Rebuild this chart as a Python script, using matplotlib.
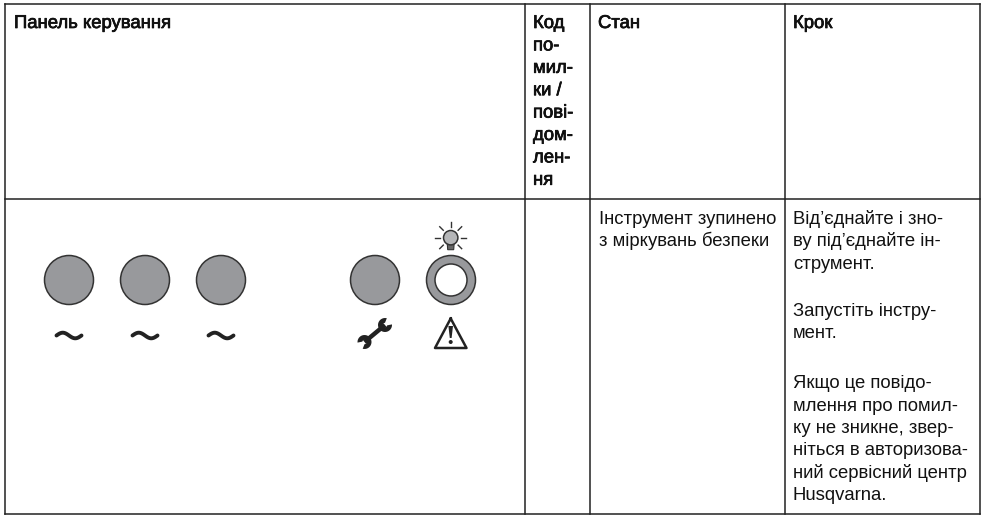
import matplotlib
matplotlib.use("Agg")
import numpy as np
import matplotlib.pyplot as plt
import matplotlib.patheffects as pe
from matplotlib.patches import Circle, Polygon

plt.rcParams['font.family'] = ['Liberation Sans', 'DejaVu Sans']

col_edges = [4.5, 524.5, 589.5, 784.5, 980]
row_edges = [3.5, 198.5, 513.5]
headers = ["Панель керування", "Код", "Стан", "Крок"]
code_lines = ["по-", "мил-", "ки /", "пові-", "дом-", "лен-", "ня"]
state_lines = ["Інструмент зупинено", "з міркувань безпеки"]
step_lines = [(224, "Від’єднайте і зно-"), (246.3, "ву під’єднайте ін-"), (268.6, "струмент."),
              (315.5, "Запустіть інстру-"), (337.8, "мент."),
              (388.3, "Якщо це повідо-"), (410.6, "млення про помил-"), (432.9, "ку не зникне, звер-"),
              (455.2, "ніться в авторизова-"), (477.5, "ний сервісний центр"), (499.8, "Husqvarna.")]
led_x = [69, 145, 221, 375]
tilde_x = [69, 145, 221]

fig = plt.figure(figsize=(9.84, 5.16), dpi=100)
ax = fig.add_axes([0, 0, 1, 1])
ax.set_xlim(0, 984); ax.set_ylim(516, 0); ax.axis('off')

LINE = '#222222'
for x in col_edges:
    ax.plot([x, x], [row_edges[0], row_edges[-1]], color=LINE, lw=1.1, solid_capstyle='projecting')
for y in row_edges:
    ax.plot([col_edges[0], col_edges[-1]], [y, y], color=LINE, lw=1.1, solid_capstyle='projecting')

FS = 13.3
hfx = [pe.withStroke(linewidth=0.5, foreground='black')]
def txt(x, y, s, bold=False):
    t = ax.text(x, y, s, fontsize=FS, color='#111111', va='baseline', ha='left')
    if bold:
        t.set_path_effects(hfx)

for x, h in zip([14, 533, 598, 793], headers):
    txt(x, 28, h, True)
for i, s in enumerate(code_lines):
    txt(533, 50.4 + 22.4 * i, s, True)
for i, s in enumerate(state_lines):
    txt(599, 224 + 22.3 * i, s)
for y, s in step_lines:
    txt(793, y, s)

GREY = '#98999c'; DARK = '#333333'
for x in led_x:
    ax.add_patch(Circle((x, 280), 24.5, fc=GREY, ec=DARK, lw=1.1))
ax.add_patch(Circle((451, 280), 24.5, fc=GREY, ec=DARK, lw=1.1))
ax.add_patch(Circle((451, 280), 16, fc='white', ec=DARK, lw=1.1))

# tildes
for x in tilde_x:
    t = np.linspace(-1, 1, 40)
    ax.plot(x + 12.5 * t, 335.5 + 2.8 * np.sin(np.pi * t), color='#222222', lw=2.8, solid_capstyle='round')

# bulb
cx, cy = 450.7, 237.7
for a in np.deg2rad([0, 45, 135, 180, 315, 225, 90]):
    ax.plot([cx + 10.5 * np.cos(a), cx + 15.5 * np.cos(a)], [cy - 10.5 * np.sin(a), cy - 15.5 * np.sin(a)],
            color='#333333', lw=1.0)
ax.add_patch(Polygon([(cx - 3.5, cy + 5), (cx + 3.5, cy + 5), (cx + 3, cy + 12), (cx - 3, cy + 12)],
                     fc='#666666', ec='#333333', lw=0.8))
ax.add_patch(Circle((cx, cy), 7.2, fc='#b5b6b8', ec='#333333', lw=1.1))

# wrench
def jaw(xc, yc, rot):
    th = np.deg2rad(np.linspace(rot + 35, rot + 325, 30))
    pts = np.c_[xc + 7 * np.cos(th), yc + 7 * np.sin(th)]
    inner = np.deg2rad(np.linspace(rot + 310, rot + 50, 12))
    pin = np.c_[xc + 2.2 * np.cos(inner), yc + 2.2 * np.sin(inner)]
    ax.add_patch(Polygon(np.vstack([pts, pin]), closed=True, fc='#222222', ec='none'))
ax.plot([364.5, 385], [342, 325], color='#222222', lw=3.2, solid_capstyle='butt')
jaw(385, 325, -40)
jaw(364.5, 342, 140)

# warning triangle
ax.plot([450.7, 466.5, 435, 450.7], [318.5, 348, 348, 318.5], color='#222222', lw=1.8, solid_joinstyle='round')
ax.add_patch(Polygon([(448.4, 326), (453, 326), (451.6, 338), (449.8, 338)], fc='#222222', ec='none'))
ax.add_patch(Circle((450.7, 342), 2.0, fc='#222222', ec='none'))

fig.savefig('out.png', dpi=100, facecolor='white')
